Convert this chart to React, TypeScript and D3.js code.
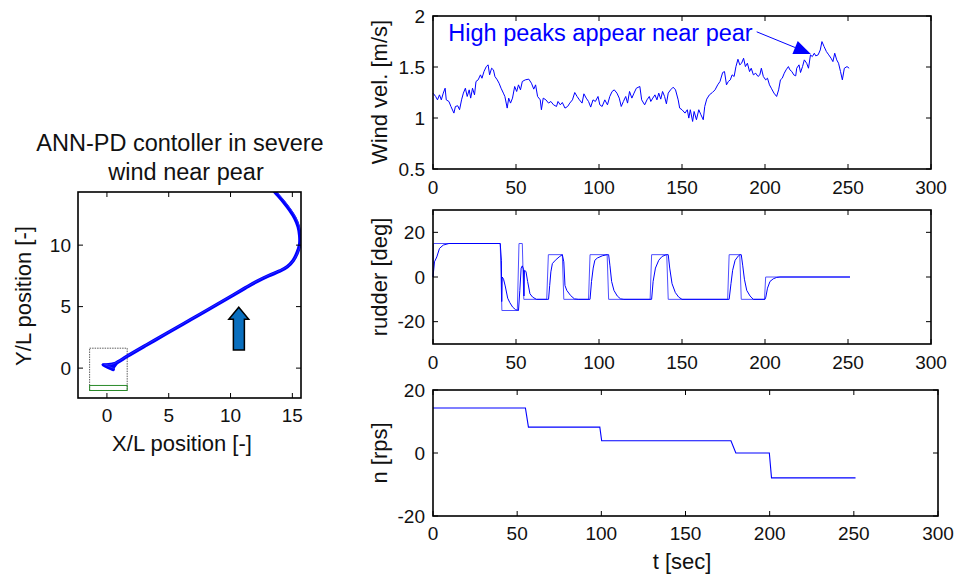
import React from "react";
import * as d3 from "d3";

// ---------- data ----------
const windT = [0,1.6,2.7,3.9,5.0,6.2,7.3,8.0,9.6,10.8,12.6,13.5,14.9,16.0,17.2,18.3,19.5,20.6,21.8,22.7,23.8,25.0,25.9,27.2,28.6,29.5,30.7,32.1,33.2,34.1,35.3,36.4,37.3,38.7,39.8,41.0,42.4,43.3,44.7,45.6,46.7,47.9,49.2,50.4,51.5,52.7,53.8,55.6,57.7,59.3,60.7,61.8,63.0,64.6,65.3,66.4,68.0,69.6,71.0,72.6,74.4,75.3,76.7,77.9,79.5,81.1,82.4,84.0,85.4,86.8,88.2,89.8,90.9,92.3,93.7,95.0,96.4,97.8,99.4,100.5,101.9,103.5,105.1,106.5,107.9,109.2,110.8,112.2,113.4,114.7,116.1,117.2,118.4,119.8,121.1,122.5,124.6,125.7,127.5,128.9,130.3,131.2,132.4,133.7,134.9,136.0,137.2,138.3,139.5,140.6,141.7,143.1,144.7,146.1,147.7,148.6,150.0,151.8,153.2,154.1,155.0,156.4,157.3,158.7,160.1,161.4,162.8,163.7,164.9,166.5,168.3,169.9,171.5,172.9,174.5,175.6,176.8,177.9,179.1,180.2,181.4,182.5,183.7,184.8,185.9,187.1,188.2,189.4,190.7,191.7,193.0,194.4,195.8,196.9,197.8,199.0,200.4,201.5,202.7,203.8,205.4,207.0,208.2,209.3,210.4,211.6,212.7,214.1,215.0,216.2,217.3,218.5,219.1,220.5,221.4,222.6,223.7,225.1,226.2,227.4,228.5,229.7,230.6,232.0,233.3,234.3,235.6,237.0,238.4,239.8,240.9,242.0,243.2,244.3,245.5,246.6,247.8,249.4,250.7];
const windV = [1.244,1.211,1.178,1.227,1.178,1.244,1.292,1.178,1.162,1.113,1.048,1.113,1.120,1.081,1.178,1.244,1.292,1.211,1.276,1.195,1.292,1.227,1.358,1.374,1.423,1.390,1.455,1.504,1.521,1.423,1.488,1.472,1.407,1.374,1.341,1.292,1.244,1.211,1.097,1.195,1.146,1.195,1.309,1.260,1.325,1.276,1.358,1.374,1.381,1.341,1.283,1.325,1.211,1.178,1.081,1.195,1.178,1.146,1.162,1.129,1.113,1.162,1.129,1.152,1.097,1.113,1.146,1.178,1.250,1.211,1.178,1.146,1.237,1.195,1.162,1.107,1.178,1.162,1.211,1.129,1.113,1.178,1.129,1.211,1.260,1.276,1.244,1.195,1.113,1.162,1.211,1.146,1.260,1.195,1.244,1.292,1.309,1.178,1.129,1.178,1.211,1.162,1.195,1.227,1.178,1.244,1.185,1.260,1.211,1.139,1.244,1.276,1.302,1.276,1.178,1.097,1.081,1.048,1.081,0.999,1.081,0.966,1.064,0.983,1.081,1.032,0.983,1.113,1.185,1.227,1.250,1.276,1.325,1.358,1.446,1.455,1.325,1.358,1.374,1.423,1.407,1.504,1.576,1.521,1.537,1.586,1.504,1.537,1.455,1.488,1.423,1.439,1.407,1.423,1.488,1.407,1.374,1.390,1.325,1.292,1.244,1.211,1.276,1.374,1.390,1.439,1.472,1.504,1.472,1.455,1.423,1.413,1.488,1.521,1.446,1.504,1.570,1.537,1.488,1.619,1.602,1.635,1.609,1.619,1.667,1.749,1.700,1.651,1.619,1.586,1.553,1.635,1.570,1.537,1.455,1.374,1.488,1.504,1.488];

const rudCmdT = [0,0.3,40.5,41.5,50.8,51.8,53.8,54.7,68.5,69.5,77.9,78.8,93.7,94.6,104.9,105.8,130.8,131.7,140.8,141.7,177.5,178.4,184.8,185.7,199.7,200.4,251.2];
const rudCmdV = [0,15,15,-15,-15,15,15,-10,-10,10,10,-10,-10,10,10,-10,-10,10,10,-10,-10,10,10,-10,-10,0,0];

const rudActT = [0,0.9,2.3,3.9,6.2,9.6,40.5,41.2,41.4,41.7,42.5,43.5,45,46.3,48,49.7,51.5,52.3,53.1,53.8,54.5,54.8,55.1,56,57,58.4,60,62.3,69.6,70.3,71,71.9,73.7,76,77.9,78.8,79.5,80.6,82.9,85.2,87.5,94.6,95.5,96.5,97.5,99,102,104.9,105.8,106.6,107.6,109,111,113,115,131.7,132.6,134,136,138,140.6,141.7,142.6,144,146,148,150,178.4,179.5,180.5,182,184,184.9,185.7,186.6,187.6,189,191,193,200,200.5,201.5,203,205,207,209,251.2];
const rudActV = [0,6.8,9,12.8,14.3,15,15,7.5,-11,0,-1,-4,-9.5,-11.5,-13.5,-14.6,-15,-6,4,5,3.5,-8.5,3,2.5,-2,-7.5,-9,-10,-10,-3.8,2.3,6,7.5,9,10,6.8,-3.8,-6,-8.3,-9.8,-10,-10,-2,4,7.5,8.5,9.5,10,10,5,-2,-6,-8.5,-9.8,-10,-10,-2,4,7.5,9.2,10,10,4,-3,-7,-9,-10,-10,-3,3,7.5,9.5,10,10,5,-1,-6,-8.5,-10,-10,-9,-5,-2,-0.8,-0.2,0,0];

const nT = [0,54.9,56.7,99.1,100.2,177,179.9,199.8,201.1,251];
const nV = [14.3,14.3,8.2,8.2,3.9,3.9,0,0,-7.9,-7.9];

const trajX = [0.5,-0.3,0.2,0.9,1.6,3.2,4.85,6.2,7.54,8.9,10.23,11.2,12.1,13.1,14.0,14.6,15.07,15.4,15.6,15.6,15.48,15.2,14.8,14.3,13.6,13.2];
const trajY = [-0.1,0.25,0.2,0.5,0.94,1.88,2.83,3.61,4.38,5.17,5.95,6.52,7.03,7.52,7.9,8.25,8.75,9.4,10.1,10.8,11.5,12.2,12.84,13.5,14.32,14.8];
const trajStartX = [-0.35, 0.45, 0.9];
const trajStartY = [0.3, -0.15, 0.45];

const zoneBox = [-1.4, 1.64, -1.82, 1.62]; // x0,x1,y0,y1
const pearBox = [-1.4, 1.64, -1.82, -1.41];
const arrowPos = [9.86, 11.47, 10.23, 11.12, 4.95, 3.97, 1.48]; // headL, headR, shaftL, shaftR, tip, headBase, bottom

const tTicks = [0, 50, 100, 150, 200, 250, 300];
const windTicks = [0.5, 1, 1.5, 2];
const rudTicks = [-20, 0, 20];
const nTicks = [-20, 0, 20];
const posXTicks = [0, 5, 10, 15];
const posYTicks = [0, 5, 10];

const FONT = "'Liberation Sans', Arial, Helvetica, sans-serif";
const BLUE = "#0000ff";

type Sc = d3.ScaleLinear<number, number>;

function Frame({ x, y, xt, yt, xLabY, yLabX, tick = 5, fs = 19 }: {
  x: Sc; y: Sc; xt: number[]; yt: number[]; xLabY: number; yLabX: number; tick?: number; fs?: number;
}) {
  const [x0, x1] = x.range();
  const [y0, y1] = y.range(); // y0 bottom, y1 top
  return (
    <g>
      {xt.map((v) => (
        <g key={"xt" + v}>
          <line x1={x(v)} x2={x(v)} y1={y0} y2={y0 - tick} stroke="#000" strokeWidth={1} />
          <line x1={x(v)} x2={x(v)} y1={y1} y2={y1 + tick} stroke="#000" strokeWidth={1} />
          <text x={x(v)} y={xLabY} textAnchor="middle" dominantBaseline="central" fontSize={fs} fontFamily={FONT} fill="#111">{String(v)}</text>
        </g>
      ))}
      {yt.map((v) => (
        <g key={"yt" + v}>
          <line x1={x0} x2={x0 + tick} y1={y(v)} y2={y(v)} stroke="#000" strokeWidth={1} />
          <line x1={x1} x2={x1 - tick} y1={y(v)} y2={y(v)} stroke="#000" strokeWidth={1} />
          <text x={yLabX} y={y(v)} textAnchor="end" dominantBaseline="central" fontSize={fs} fontFamily={FONT} fill="#111">{String(v)}</text>
        </g>
      ))}
      <rect x={x0} y={y1} width={x1 - x0} height={y0 - y1} fill="none" stroke="#000" strokeWidth={1.6} />
    </g>
  );
}

export default function App() {
  // ---------- left: trajectory ----------
  const px = d3.scaleLinear().domain([-2.34, 15.7]).range([78, 301]);
  const py = d3.scaleLinear().domain([-2.43, 14.32]).range([398, 192]);
  const trajPts = trajX.map((v, i) => [v, trajY[i]] as [number, number]);
  const trajLine = d3.line<[number, number]>().x((d) => px(d[0])).y((d) => py(d[1])).curve(d3.curveCatmullRom.alpha(0.5));
  const startPts = trajStartX.map((v, i) => [px(v), py(trajStartY[i])].join(",")).join(" ");
  const [hl, hr, sl, sr, tip, hb, bot] = arrowPos;
  const arrowPath = [
    [px((hl + hr) / 2), py(tip)], [px(hr), py(hb)], [px(sr), py(hb)], [px(sr), py(bot)],
    [px(sl), py(bot)], [px(sl), py(hb)], [px(hl), py(hb)],
  ].map((p) => p.join(",")).join(" ");

  // ---------- right: time series ----------
  const tx = d3.scaleLinear().domain([0, 300]).range([433, 931]);
  const tx3 = d3.scaleLinear().domain([0, 300]).range([433, 938]);
  const wy = d3.scaleLinear().domain([0.5, 2]).range([169, 16]);
  const ry = d3.scaleLinear().domain([-30, 30]).range([344, 210]);
  const ny = d3.scaleLinear().domain([-20, 20]).range([516, 390]);

  const windLine = d3.line<number>().x((_, i) => tx(windT[i])).y((d) => wy(d));
  const cmdLine = d3.line<number>().x((_, i) => tx(rudCmdT[i])).y((d) => ry(d));
  const actLine = d3.line<number>().x((_, i) => tx(rudActT[i])).y((d) => ry(d));
  const nLine = d3.line<number>().x((_, i) => tx3(nT[i])).y((d) => ny(d));

  // annotation arrow
  const aS = [tx(195), wy(1.845)];
  const aE = [tx(227.6), wy(1.628)];
  const ang = Math.atan2(aE[1] - aS[1], aE[0] - aS[0]);
  const hL = 17, hW = 7;
  const bx = aE[0] - hL * Math.cos(ang), by = aE[1] - hL * Math.sin(ang);
  const head = [
    [aE[0], aE[1]],
    [bx + hW * Math.sin(ang), by - hW * Math.cos(ang)],
    [bx - hW * Math.sin(ang), by + hW * Math.cos(ang)],
  ].map((p) => p.join(",")).join(" ");

  const labFs = 22;
  const trajD = trajLine(trajPts) || "";
  return (
    <svg width={955} height={574} style={{ position: "absolute", left: 0, top: 0, background: "#fff" }}>
      <defs>
        <clipPath id="clipL"><rect x={78} y={192} width={223} height={206} /></clipPath>
      </defs>
      <rect x={0} y={0} width={955} height={574} fill="#fff" />

      {/* ---------- left panel ---------- */}
      <text x={180} y={143} textAnchor="middle" dominantBaseline="central" fontSize={23.5} fontFamily={FONT} fill="#111">ANN-PD contoller in severe</text>
      <text x={186} y={172} textAnchor="middle" dominantBaseline="central" fontSize={23.5} fontFamily={FONT} fill="#111">wind near pear</text>
      <rect x={px(zoneBox[0])} y={py(zoneBox[3])} width={px(zoneBox[1]) - px(zoneBox[0])} height={py(zoneBox[2]) - py(zoneBox[3])} fill="none" stroke="#333" strokeWidth={0.8} strokeDasharray="1.5,1" />
      <rect x={px(pearBox[0])} y={py(pearBox[3])} width={px(pearBox[1]) - px(pearBox[0])} height={py(pearBox[2]) - py(pearBox[3])} fill="none" stroke="#2a8a2a" strokeWidth={1} />
      <g clipPath="url(#clipL)">
        <polygon points={startPts} fill={BLUE} stroke={BLUE} strokeWidth={1.5} strokeLinejoin="round" />
        <path d={trajD} fill="none" stroke={BLUE} strokeWidth={3.6} strokeLinejoin="round" strokeLinecap="round" />
        <path d={trajD} fill="none" stroke="#2a2aff" strokeWidth={1} transform="translate(0.9,-0.9)" />
      </g>
      <polygon points={arrowPath} fill="#0a6fbe" stroke="#000" strokeWidth={1.5} />
      <Frame x={px} y={py} xt={posXTicks} yt={posYTicks} xLabY={415} yLabX={71} />
      <text x={182} y={443} textAnchor="middle" dominantBaseline="central" fontSize={labFs} fontFamily={FONT} fill="#111">X/L position [-]</text>
      <text transform={`translate(23,296) rotate(-90)`} textAnchor="middle" dominantBaseline="central" fontSize={labFs} fontFamily={FONT} fill="#111">Y/L position [-]</text>

      {/* ---------- wind ---------- */}
      <path d={windLine(windV) || ""} fill="none" stroke={BLUE} strokeWidth={1} />
      <Frame x={tx} y={wy} xt={tTicks} yt={windTicks} xLabY={187} yLabX={425} />
      <text x={tx(9.2)} y={wy(1.83)} dominantBaseline="central" fontSize={23.5} fontFamily={FONT} fill={BLUE}>High peaks appear near pear</text>
      <line x1={aS[0]} y1={aS[1]} x2={bx} y2={by} stroke={BLUE} strokeWidth={1} />
      <polygon points={head} fill={BLUE} />
      <text transform={`translate(379,92) rotate(-90)`} textAnchor="middle" dominantBaseline="central" fontSize={labFs} fontFamily={FONT} fill="#111">Wind vel. [m/s]</text>

      {/* ---------- rudder ---------- */}
      <path d={cmdLine(rudCmdV) || ""} fill="none" stroke="#5050ff" strokeWidth={1} />
      <path d={actLine(rudActV) || ""} fill="none" stroke={BLUE} strokeWidth={1} />
      <Frame x={tx} y={ry} xt={tTicks} yt={rudTicks} xLabY={362} yLabX={425} />
      <text transform={`translate(379,277) rotate(-90)`} textAnchor="middle" dominantBaseline="central" fontSize={labFs} fontFamily={FONT} fill="#111">rudder [deg]</text>

      {/* ---------- propeller ---------- */}
      <path d={nLine(nV) || ""} fill="none" stroke={BLUE} strokeWidth={1.1} />
      <Frame x={tx3} y={ny} xt={tTicks} yt={nTicks} xLabY={533} yLabX={425} />
      <text transform={`translate(379,453) rotate(-90)`} textAnchor="middle" dominantBaseline="central" fontSize={labFs} fontFamily={FONT} fill="#111">n [rps]</text>
      <text x={682} y={561} textAnchor="middle" dominantBaseline="central" fontSize={labFs} fontFamily={FONT} fill="#111">t [sec]</text>
    </svg>
  );
}
